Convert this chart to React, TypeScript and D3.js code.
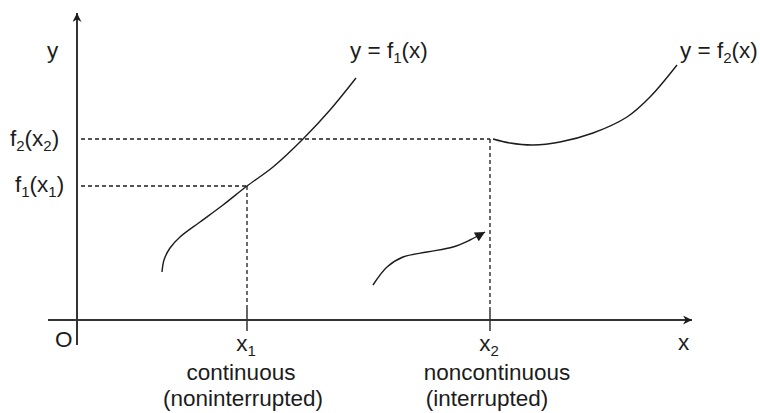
import * as d3 from 'd3';

// sketch coordinates: x and y in the same units (1 unit = 10px)
type Pt = [number, number];

const curveF1: Pt[] = [
  [8.5, 4.8], [8.7, 6.0], [9.3, 7.2], [10.3, 8.3], [12.3, 9.8], [14.6, 11.5],
  [17.0, 13.4], [19.6, 15.3], [22.6, 18.1], [25.3, 21.0], [27.9, 24.2],
];
const curveF2: Pt[] = [
  [41.6, 18.1], [43.3, 17.7], [45.6, 17.5], [48.3, 17.8], [51.6, 18.7],
  [55.0, 20.3], [57.3, 22.3], [60.0, 25.5],
];
const jumpCurve: Pt[] = [
  [29.6, 3.5], [31.0, 5.3], [32.6, 6.3], [35.0, 6.8], [37.6, 7.3], [39.3, 8.0], [40.8, 8.8],
];

const x1 = 17.0;
const x2 = 41.3;
const f1x1 = 13.4;
const f2x2 = 18.1;

const W = 760;
const H = 413;
const INK = '#1c1c1c';
const FONT = '"Liberation Sans", Arial, sans-serif';

const xScale = d3.scaleLinear().domain([0, 62]).range([77, 697]);
const yScale = d3.scaleLinear().domain([0, 30.6]).range([320, 14]);

const line = d3
  .line<Pt>()
  .x(d => xScale(d[0]))
  .y(d => yScale(d[1]))
  .curve(d3.curveCatmullRom);

// text pieces: "_" prefix marks a subscript
function Label({ x, y, parts, anchor = 'start' }: {
  x: number; y: number; parts: string[]; anchor?: string;
}) {
  let low = false;
  return (
    <text x={x} y={y} fontSize={22.5} fill={INK} fontFamily={FONT} textAnchor={anchor}>
      {parts.map((p, i) => {
        const isSub = p.startsWith('_');
        const dy = isSub === low ? 0 : isSub ? 5 : -5;
        low = isSub;
        return (
          <tspan key={i} dy={dy} fontSize={isSub ? 15 : 22.5}>{isSub ? p.slice(1) : p}</tspan>
        );
      })}
    </text>
  );
}

export default function App() {
  const ox = xScale(0);
  const oy = yScale(0);

  return (
    <svg width={W} height={H} style={{ position: 'absolute', left: 0, top: 0, background: '#fff' }}>
      <defs>
        <marker id="axisArrow" viewBox="0 0 10 10" refX="10" refY="5" markerWidth="14" markerHeight="9"
          markerUnits="userSpaceOnUse" orient="auto">
          <path d="M0,0 L10,5 L0,10 L3,5 Z" fill={INK} />
        </marker>
        <marker id="curveArrow" viewBox="0 0 10 10" refX="10" refY="5" markerWidth="13" markerHeight="10"
          markerUnits="userSpaceOnUse" orient="auto">
          <path d="M0,0 L10,5 L0,10 Z" fill={INK} />
        </marker>
      </defs>

      {/* axes */}
      <line x1={48} x2={xScale(61.5)} y1={oy} y2={oy} stroke="#333" strokeWidth={2} markerEnd="url(#axisArrow)" />
      <line x1={ox} x2={ox} y1={345} y2={yScale(30.7)} stroke="#333" strokeWidth={2} markerEnd="url(#axisArrow)" />

      {/* ticks */}
      {[x1, x2].map(v => (
        <line key={v} x1={xScale(v)} x2={xScale(v)} y1={oy - 11} y2={oy + 11} stroke="#333" strokeWidth={1.5} />
      ))}

      {/* guide lines */}
      <g stroke={INK} strokeWidth={1.3} strokeDasharray="4,3" fill="none">
        <line x1={ox + 4} x2={xScale(x1)} y1={yScale(f1x1)} y2={yScale(f1x1)} />
        <line x1={xScale(x1)} x2={xScale(x1)} y1={yScale(f1x1)} y2={oy - 11} />
        <line x1={ox + 4} x2={xScale(x2)} y1={yScale(f2x2)} y2={yScale(f2x2)} />
        <line x1={xScale(x2)} x2={xScale(x2)} y1={yScale(f2x2)} y2={oy - 11} />
      </g>

      {/* curves */}
      <g stroke={INK} strokeWidth={1.4} fill="none">
        <path d={line(curveF1) ?? ''} />
        <path d={line(curveF2) ?? ''} />
        <path d={line(jumpCurve) ?? ''} markerEnd="url(#curveArrow)" />
      </g>

      {/* labels */}
      <Label x={47} y={58} parts={['y']} />
      <Label x={10} y={146} parts={['f', '_2', '(x', '_2', ')']} />
      <Label x={15} y={192} parts={['f', '_1', '(x', '_1', ')']} />
      <Label x={350} y={58} parts={['y = f', '_1', '(x)']} />
      <Label x={680} y={58} parts={['y = f', '_2', '(x)']} />
      <Label x={55} y={347} parts={['O']} />
      <Label x={678} y={350} parts={['x']} />
      <Label x={xScale(x1) - 1} y={351} parts={['x', '_1']} anchor="middle" />
      <Label x={xScale(x2) - 1} y={351} parts={['x', '_2']} anchor="middle" />
      <Label x={241} y={380} parts={['continuous']} anchor="middle" />
      <Label x={243} y={406} parts={['(noninterrupted)']} anchor="middle" />
      <Label x={497} y={380} parts={['noncontinuous']} anchor="middle" />
      <Label x={487} y={406} parts={['(interrupted)']} anchor="middle" />
    </svg>
  );
}
